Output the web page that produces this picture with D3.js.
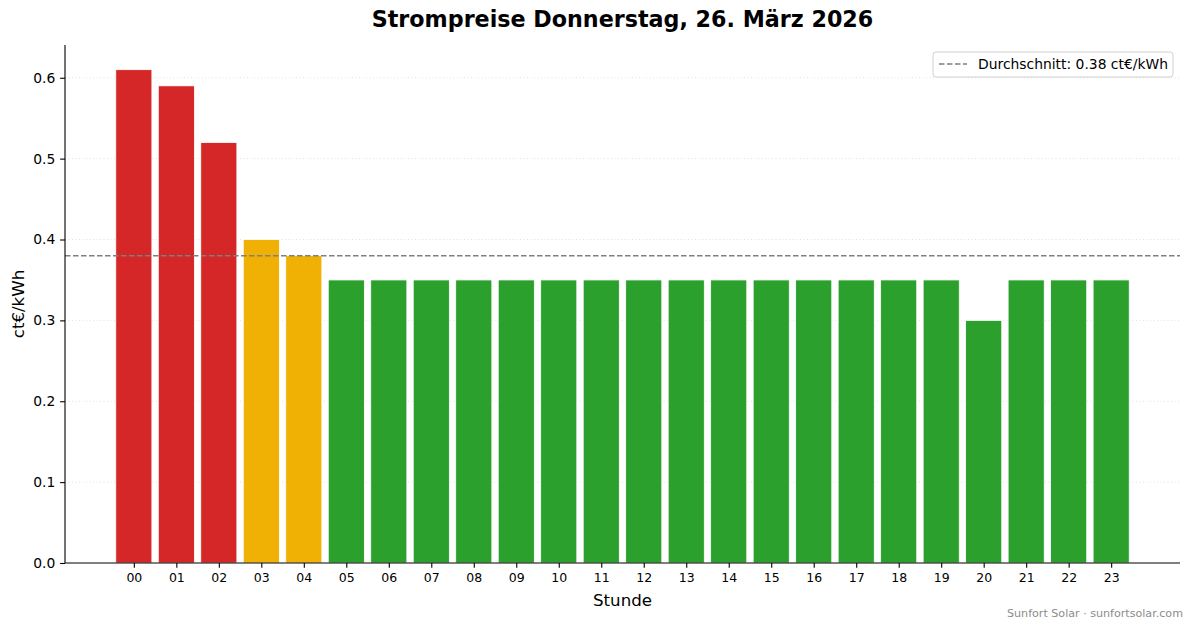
<!DOCTYPE html>
<html>
<head>
<meta charset="utf-8">
<script src="https://cdn.jsdelivr.net/npm/d3@7"></script>
<style>
  body { margin: 0; background: #fff; }
  svg { font-family: "DejaVu Sans", sans-serif; }
</style>
</head>
<body>
<svg id="chart" width="1193" height="628"></svg>
<script>
// Daten
const hours = ["00","01","02","03","04","05","06","07","08","09","10","11",
               "12","13","14","15","16","17","18","19","20","21","22","23"];
const prices = [0.61, 0.59, 0.52, 0.40, 0.38, 0.35, 0.35, 0.35, 0.35, 0.35, 0.35, 0.35,
                0.35, 0.35, 0.35, 0.35, 0.35, 0.35, 0.35, 0.35, 0.30, 0.35, 0.35, 0.35];
const levels = ["hoch","hoch","hoch","mittel","mittel","niedrig","niedrig","niedrig","niedrig","niedrig","niedrig","niedrig",
                "niedrig","niedrig","niedrig","niedrig","niedrig","niedrig","niedrig","niedrig","niedrig","niedrig","niedrig","niedrig"];
const yTicks = [0.0, 0.1, 0.2, 0.3, 0.4, 0.5, 0.6];
const average = 0.38;

const levelColor = { hoch: "#d62728", mittel: "#f0b004", niedrig: "#2ca02c" };

const width = 1193, height = 628;
const margin = { top: 45, right: 13, bottom: 65, left: 65 };
const pt = 100 / 72; // Punkt -> Pixel

const svg = d3.select("#chart");

// Skalen
const x = d3.scaleLinear()
    .domain([-1.62, hours.length - 1 + 1.62])
    .range([margin.left, width - margin.right]);
const y = d3.scaleLinear()
    .domain([0, d3.max(prices) * 1.05])
    .range([height - margin.bottom, margin.top]);

const barW = 0.85;

// Gitterlinien
svg.append("g")
    .selectAll("line")
    .data(yTicks.filter(d => d > 0))
    .join("line")
    .attr("x1", margin.left).attr("x2", width - margin.right)
    .attr("y1", d => y(d)).attr("y2", d => y(d))
    .attr("stroke", "#d8d8d8")
    .attr("stroke-width", 0.8)
    .attr("stroke-dasharray", "1,2.5");

// Balken
svg.append("g")
    .selectAll("rect")
    .data(prices)
    .join("rect")
    .attr("x", (d, i) => x(i - barW / 2))
    .attr("y", d => y(d))
    .attr("width", x(barW) - x(0))
    .attr("height", d => y(0) - y(d))
    .attr("fill", (d, i) => levelColor[levels[i]])
    .attr("stroke", "#fff")
    .attr("stroke-width", 0.8);

// Durchschnitt
svg.append("line")
    .attr("x1", margin.left).attr("x2", width - margin.right)
    .attr("y1", y(average)).attr("y2", y(average))
    .attr("stroke", "#7f7f7f")
    .attr("stroke-width", 1.5)
    .attr("stroke-dasharray", "5.5,2.5");

// Achsen
const xAxis = svg.append("g")
    .attr("transform", `translate(0,${height - margin.bottom})`)
    .call(d3.axisBottom(x)
        .tickValues(d3.range(hours.length))
        .tickFormat(i => hours[i])
        .tickSize(3.5 * pt)
        .tickPadding(3.5 * pt));
xAxis.select(".domain").attr("d", `M${margin.left},0H${width - margin.right}`);
xAxis.selectAll("text").attr("font-size", 9 * pt).attr("fill", "#000").attr("font-family", "DejaVu Sans");

const yAxis = svg.append("g")
    .attr("transform", `translate(${margin.left},0)`)
    .call(d3.axisLeft(y)
        .tickValues(yTicks)
        .tickFormat(d3.format(".1f"))
        .tickSize(3.5 * pt)
        .tickPadding(3.5 * pt));
yAxis.select(".domain").attr("d", `M0,${margin.top}V${height - margin.bottom}`);
yAxis.selectAll("text").attr("font-size", 10 * pt).attr("fill", "#000").attr("font-family", "DejaVu Sans");
svg.selectAll(".domain").attr("stroke", "#000").attr("stroke-width", 1.1);
svg.selectAll(".tick line").attr("stroke", "#000").attr("stroke-width", 1.1);

// Titel & Beschriftungen
svg.append("text")
    .attr("x", (margin.left + width - margin.right) / 2)
    .attr("y", 27)
    .attr("text-anchor", "middle")
    .attr("font-size", 16 * pt)
    .attr("font-weight", "bold")
    .text("Strompreise Donnerstag, 26. März 2026");

svg.append("text")
    .attr("x", (margin.left + width - margin.right) / 2)
    .attr("y", 606)
    .attr("text-anchor", "middle")
    .attr("font-size", 12 * pt)
    .text("Stunde");

svg.append("text")
    .attr("transform", `translate(24,${(margin.top + height - margin.bottom) / 2}) rotate(-90)`)
    .attr("text-anchor", "middle")
    .attr("font-size", 12 * pt)
    .text("ct€/kWh");

svg.append("text")
    .attr("x", 1183)
    .attr("y", 617)
    .attr("text-anchor", "end")
    .attr("font-size", 8 * pt)
    .attr("fill", "#8c8c8c")
    .text("Sunfort Solar · sunfortsolar.com");

// Legende
const legend = svg.append("g").attr("transform", "translate(933,52)");
legend.append("rect")
    .attr("width", 240).attr("height", 25)
    .attr("rx", 3)
    .attr("fill", "#fff").attr("fill-opacity", 0.8)
    .attr("stroke", "#d0d0d0");
legend.append("line")
    .attr("x1", 6).attr("x2", 34).attr("y1", 12).attr("y2", 12)
    .attr("stroke", "#7f7f7f").attr("stroke-width", 1.5)
    .attr("stroke-dasharray", "5.5,2.5");
legend.append("text")
    .attr("x", 45).attr("y", 17)
    .attr("font-size", 10 * pt)
    .text(`Durchschnitt: ${average.toFixed(2)} ct€/kWh`);
</script>
</body>
</html>
